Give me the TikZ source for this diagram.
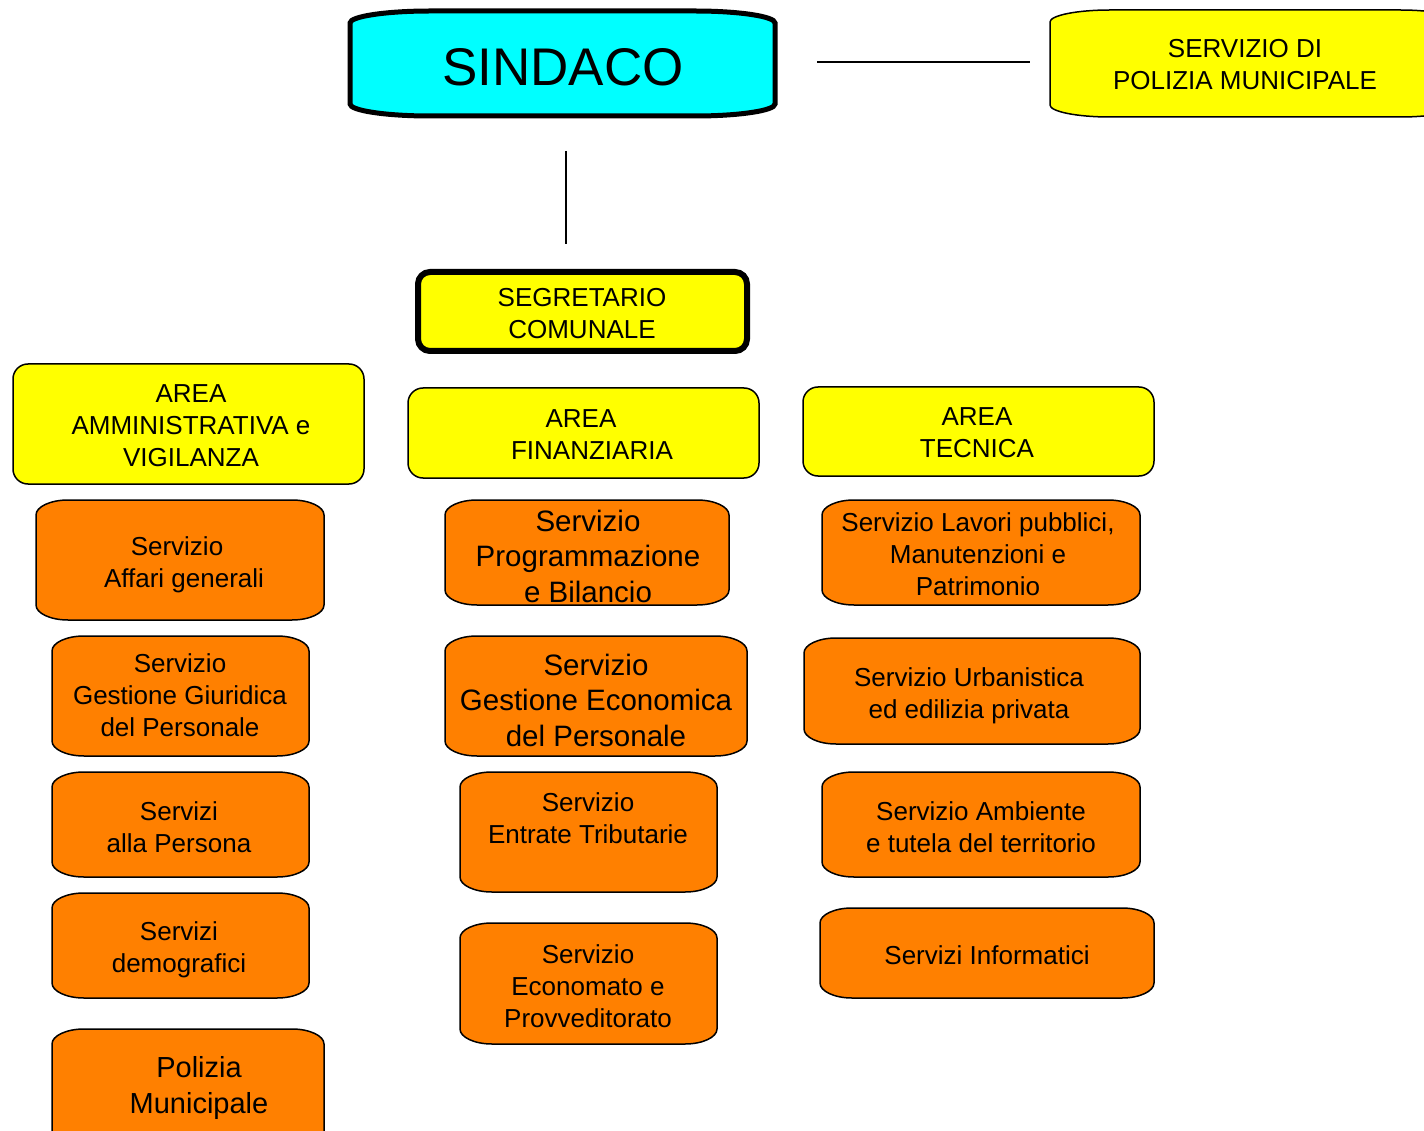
\documentclass[tikz,border=0pt]{standalone}
\usepackage{fontspec}
\setmainfont{Liberation Sans}
\definecolor{cyanbox}{HTML}{00FFFF}
\definecolor{yelbox}{HTML}{FFFF00}
\definecolor{orbox}{HTML}{FF8000}
% style, x1, y1, x2, y2, rx, ry
\newcommand\bulgepath[7]{%
 \path[#1] (#2,#3+#7) .. controls (#2,#3+0.45*#7) and (#2+0.45*#6,#3) .. (#2+#6,#3)
 -- (#4-#6,#3) .. controls (#4-0.45*#6,#3) and (#4,#3+0.45*#7) .. (#4,#3+#7)
 -- (#4,#5-#7) .. controls (#4,#5-0.45*#7) and (#4-0.45*#6,#5) .. (#4-#6,#5)
 -- (#2+#6,#5) .. controls (#2+0.45*#6,#5) and (#2,#5-0.45*#7) .. (#2,#5-#7) -- cycle;}
\begin{document}
\begin{tikzpicture}[x=1pt,y=-1pt,
  obx/.style={fill=orbox,draw=black,line width=1.5pt},
  ybx/.style={fill=yelbox,draw=black,line width=1.5pt,rounded corners=15pt},
  txt/.style={align=center,inner sep=0pt,font=\fontsize{26}{32}\selectfont},
  bigtxt/.style={align=center,inner sep=0pt,font=\fontsize{29.5}{35.5}\selectfont},
  conn/.style={draw=black,line width=1.5pt}]
\clip (0,0) rectangle (1424,1131);
\fill[white] (0,0) rectangle (1424,1131);

% SINDACO
\bulgepath{fill=cyanbox,draw=black,line width=5pt}{350}{11}{775}{116}{80}{12}
\node[align=center,inner sep=0pt,font=\fontsize{53}{60}\selectfont] (sindaco) at (563,67) {SINDACO};

% Servizio di Polizia Municipale
\bulgepath{fill=yelbox,draw=black,line width=1.5pt}{1050}{10}{1460}{117}{60}{12}
\node[txt] (spm) at (1245,65) {SERVIZIO DI\\POLIZIA MUNICIPALE};

\coordinate (l1a) at (817,62);
\coordinate (l1b) at (1030,62);
\draw[conn] (l1a) -- (l1b);
\coordinate (l2a) at (566,151);
\coordinate (l2b) at (566,244);
\draw[conn] (l2a) -- (l2b);

% Segretario
\path[fill=yelbox,draw=black,line width=6pt,rounded corners=12pt] (418,272) rectangle (747,351);
\node[txt] (segr) at (582,314) {SEGRETARIO\\COMUNALE};

% Areas
\path[ybx] (13,364) rectangle (364,484);
\node[txt] (aamm) at (191,426) {AREA\\AMMINISTRATIVA e\\VIGILANZA};
\path[ybx] (408,388) rectangle (759,478);
\node[txt] (afin) at (588,435) {AREA\hspace*{14pt}\\\hspace*{8pt}FINANZIARIA};
\path[ybx] (803,387) rectangle (1154,476);
\node[txt] (atec) at (977,433) {AREA\\TECNICA};

% Column 1
\bulgepath{obx}{36}{500}{324}{620}{32}{15}
\node[txt] (s1) at (177,565) {Servizio\\\hspace*{14pt}Affari generali};
\bulgepath{obx}{52}{636}{309}{756}{32}{15}
\node[txt] (s2) at (180,695) {Servizio\\Gestione Giuridica\\del Personale};
\bulgepath{obx}{52}{772}{309}{877}{32}{15}
\node[txt] (s3) at (179,827) {Servizi\\alla Persona};
\bulgepath{obx}{52}{893}{309}{998}{32}{15}
\node[txt] (s4) at (179,950) {Servizi\\demografici};
\bulgepath{obx}{52}{1029}{324}{1160}{32}{15}
\node[align=center,inner sep=0pt,font=\fontsize{29}{36}\selectfont] (s5) at (199,1088) {Polizia\\Municipale};

% Column 2
\bulgepath{obx}{445}{500}{729}{605}{32}{15}
\node[bigtxt] (f1) at (588,556) {Servizio\\Programmazione\\e Bilancio};
\bulgepath{obx}{445}{636}{747}{756}{32}{15}
\node[bigtxt] (f2) at (596,700) {Servizio\\Gestione Economica\\del Personale};
\bulgepath{obx}{460}{772}{717}{892}{32}{15}
\node[txt] (f3) at (588,818) {Servizio\\Entrate Tributarie};
\bulgepath{obx}{460}{923}{717}{1044}{32}{15}
\node[txt] (f4) at (588,986) {Servizio\\Economato e\\Provveditorato};

% Column 3
\bulgepath{obx}{822}{500}{1140}{605}{32}{15}
\node[txt] (t1) at (978,554) {Servizio Lavori pubblici,\\Manutenzioni e\\Patrimonio};
\bulgepath{obx}{804}{638}{1140}{744}{32}{15}
\node[txt] (t2) at (969,696) {Servizio Urbanistica\\ed edilizia privata};
\bulgepath{obx}{822}{772}{1140}{877}{32}{15}
\node[txt] (t3) at (981,827) {Servizio Ambiente\\e tutela del territorio};
\bulgepath{obx}{820}{908}{1154}{998}{32}{15}
\node[txt] (t4) at (987,955) {Servizi Informatici};
\end{tikzpicture}
\end{document}
